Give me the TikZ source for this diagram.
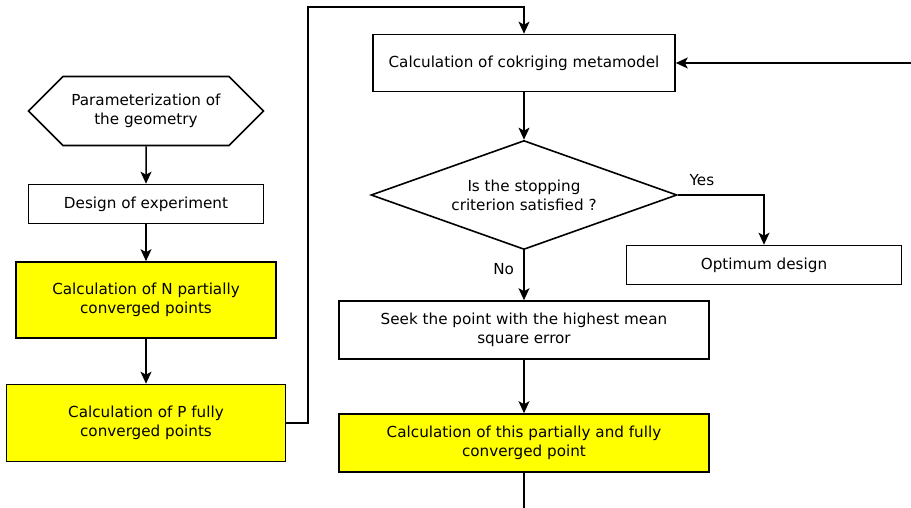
\documentclass[tikz,border=0pt]{standalone}
\usepackage{fontspec}
\setmainfont{DejaVu Sans}
\usepackage{xcolor}
\usepackage{tikz}
\usetikzlibrary{arrows.meta, positioning, shapes.geometric, shapes.symbols}
\definecolor{calc_yellow}{RGB}{255, 255, 0}

\begin{document}
\begin{tikzpicture}[
        x=1pt, y=-1pt,
        every node/.style={font=\fontsize{15.2}{19}\selectfont},
        box/.style={rectangle, draw, line width=1.6pt, inner sep=0pt, align=center},
        calcbox/.style={box, fill=calc_yellow},
        hexa/.style={signal, signal to=west and east, signal pointer angle=90, draw, line width=1.6pt,
                     minimum width=235pt, minimum height=69pt, inner sep=0pt, align=center},
        decision/.style={diamond, aspect=2.8, draw, line width=1.6pt, minimum width=306pt, minimum height=109pt,
                         inner sep=0pt, align=center},
        arr/.style={-{Stealth[length=12pt, width=11pt, inset=3pt]}, line width=1.5pt},
      ]
        \useasboundingbox (0,0) rectangle (911,508);

        \node[hexa] (param) at (146,111) {Parameterization of\\the geometry};
        \node[box, minimum width=235pt, minimum height=39pt] (doe) at (146,204) {Design of experiment};
        \node[calcbox, minimum width=260pt, minimum height=76pt] (pointsN) at (146,300) {Calculation of N partially\\converged points};
        \node[calcbox, minimum width=279pt, minimum height=77pt] (pointsP) at (146,423) {Calculation of P fully\\converged points};
        \node[box, minimum width=302pt, minimum height=57pt] (meta) at (524,63) {Calculation of cokriging metamodel};
        \node[decision] (stop) at (524,195) {Is the stopping\\criterion satisfied ?};
        \node[box, minimum width=275pt, minimum height=39pt] (optimum) at (764,265) {Optimum design};
        \node[box, minimum width=370pt, minimum height=58pt] (seek) at (524,330) {Seek the point with the highest mean\\square error};
        \node[calcbox, minimum width=370pt, minimum height=58pt] (update) at (524,443) {Calculation of this partially and fully\\converged point};

        \coordinate (corner) at (308,7);
        \coordinate (feedback) at (911,63);
        \coordinate (loopout) at (524,508);

        \draw[arr] (param) -- (doe);
        \draw[arr] (doe) -- (pointsN);
        \draw[arr] (pointsN) -- (pointsP);
        \draw[arr] (pointsP.east) -| (corner) -| (meta.north);
        \draw[arr] (feedback) -- (meta);
        \draw[arr] (meta) -- (stop);
        \draw[arr] (stop.east) -| node[pos=0.14, above=5pt] {Yes} (optimum);
        \draw[arr] (stop) -- node[pos=0.37, left=6pt] {No} (seek);
        \draw[arr] (seek) -- (update);
        \draw[line width=1.5pt] (update) -- (loopout);
      \end{tikzpicture}
\end{document}
